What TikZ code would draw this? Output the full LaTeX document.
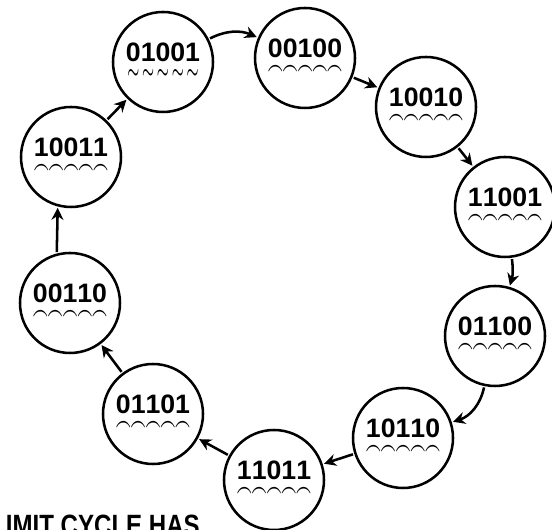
\documentclass[tikz,border=0pt]{standalone}
\usepackage{amsmath}
\usepackage{graphicx}
\usepackage{fontspec}
\setmainfont{Liberation Sans}
\usepackage{tikz}
\usetikzlibrary{arrows.meta}

% digits with the hand-drawn marks underneath
\newcommand{\hb}[1]{\ensuremath{\underset{\makebox[0pt]{\scalebox{0.7}[1.2]{$\scriptstyle\boldsymbol{\frown}$}}}{\text{#1}}}}
\newcommand{\tb}[1]{\ensuremath{\underset{\makebox[0pt]{\scalebox{0.7}[1.2]{$\scriptstyle\boldsymbol{\sim}$}}}{\text{#1}}}}

\begin{document}
\begin{tikzpicture}[
      x=0.75pt, y=0.75pt,
      state/.style = {draw, circle, line width=1.9pt, minimum size=75pt,
                      inner sep=0pt, font=\fontsize{20}{21}\selectfont\bfseries},
      arr/.style   = {-{Stealth[length=9pt,width=9pt]}, line width=1.9pt,
                      shorten <=1pt, shorten >=1pt},
      note/.style  = {font=\fontsize{22}{22}\selectfont\bfseries, inner sep=0pt,
                      anchor=base west},
    ]
    \clip (0,0) rectangle (552,530);

    % --- States of the cycle ---
    \node[state] (s01001) at (163,468) {\tb0\tb1\tb0\tb0\tb1};
    \node[state] (s00100) at (305,472) {\hb0\hb0\hb1\hb0\hb0};
    \node[state] (s10010) at (426,423) {\hb1\hb0\hb0\hb1\hb0};
    \node[state] (s11001) at (505,323) {\hb1\hb1\hb0\hb0\hb1};
    \node[state] (s01100) at (495,194) {\hb0\hb1\hb1\hb0\hb0};
    \node[state] (s10110) at (403,92)  {\hb1\hb0\hb1\hb1\hb0};
    \node[state] (s11011) at (274,50)  {\hb1\hb1\hb0\hb1\hb1};
    \node[state] (s01101) at (153,116) {\hb0\hb1\hb1\hb0\hb1};
    \node[state] (s00110) at (70,227)  {\hb0\hb0\hb1\hb1\hb0};
    \node[state] (s10011) at (71,373)  {\hb1\hb0\hb0\hb1\hb1};

    % --- Transitions ---
    \draw[arr] (s10011) -- (s01001);
    \draw[arr] (s01001) to[bend left=25] (s00100);
    \draw[arr] (s00100) -- (s10010);
    \draw[arr] (s10010) -- (s11001);
    \draw[arr] (s11001) to[bend left=12] (s01100);
    \draw[arr] (s01100) to[bend left=30] (s10110);
    \draw[arr] (s10110) -- (s11011);
    \draw[arr] (s11011) -- (s01101);
    \draw[arr] (s01101) -- (s00110);
    \draw[arr] (s00110.105) -- (s10011.255);

    % caption, cut by the lower edge
    \node[note] (cap) at (-9,-6) {\scalebox{0.82}[1]{LIMIT CYCLE HAS}};
\end{tikzpicture}
\end{document}
